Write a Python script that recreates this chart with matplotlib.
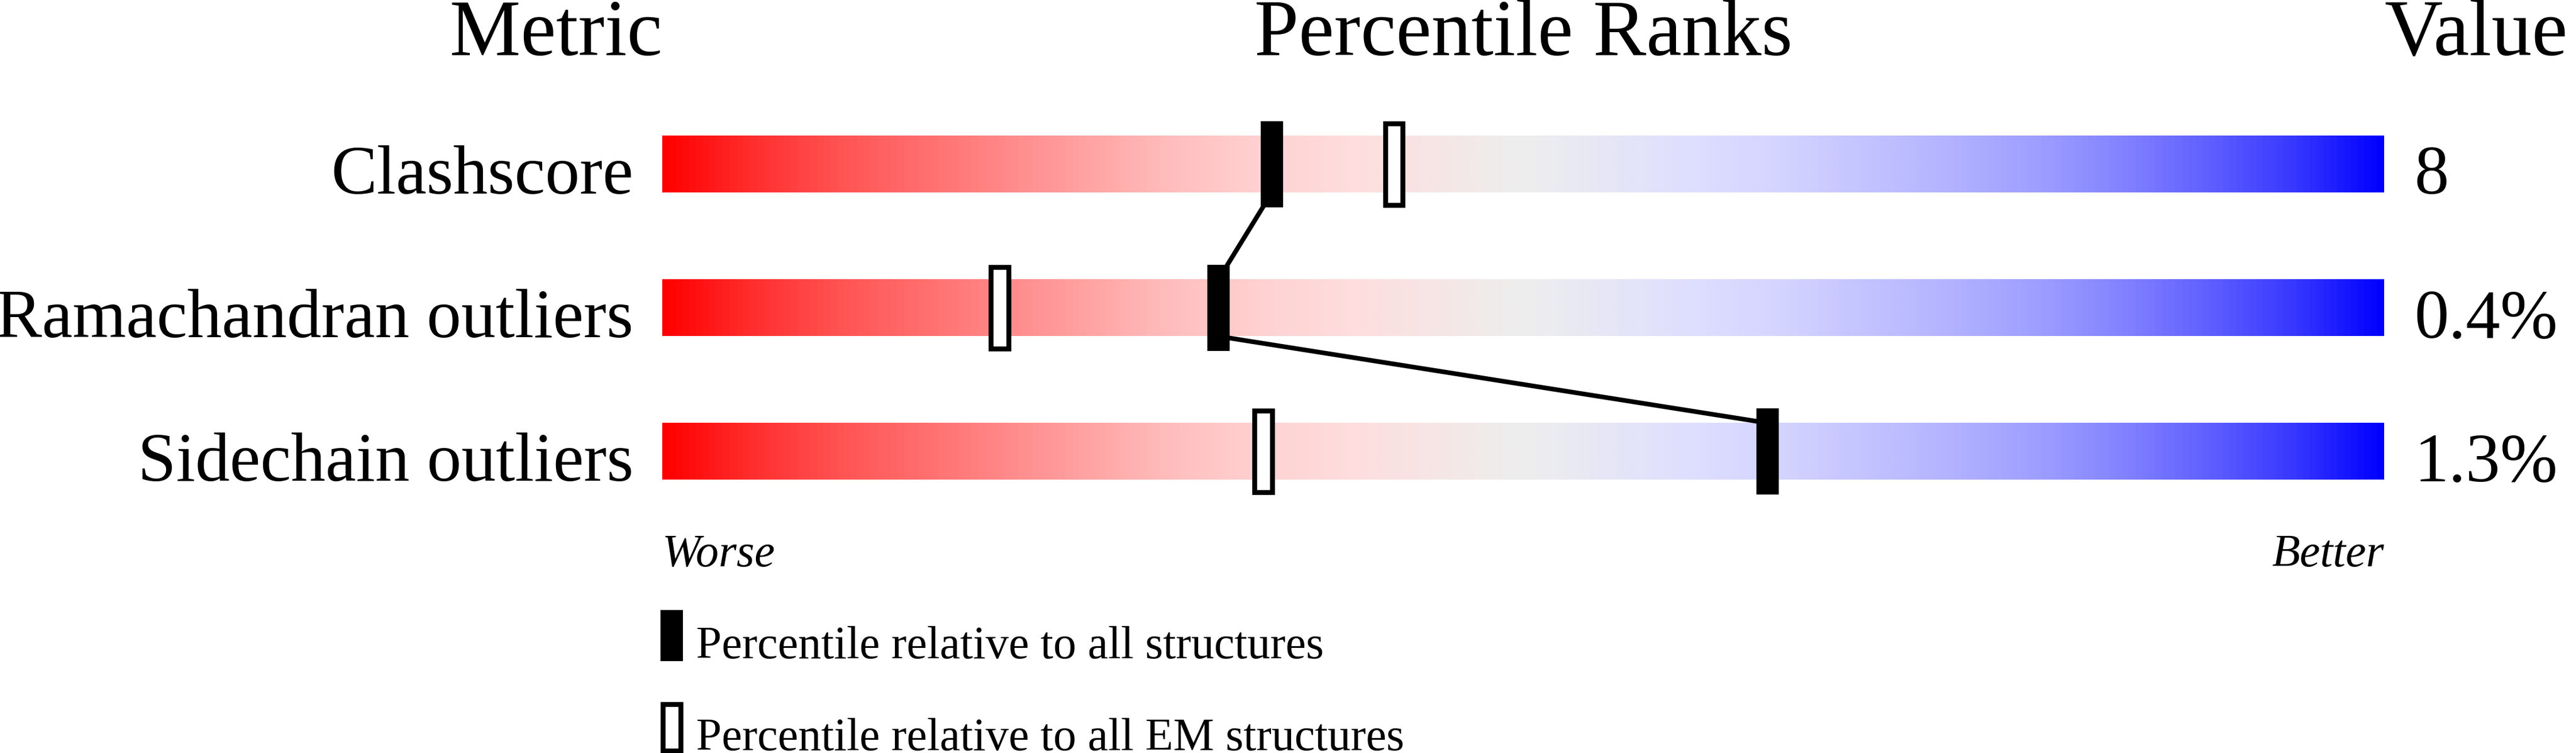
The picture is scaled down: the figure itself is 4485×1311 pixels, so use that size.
import numpy as np
import matplotlib
matplotlib.use("Agg")
import matplotlib.pyplot as plt
from matplotlib.colors import LinearSegmentedColormap
from matplotlib.patches import Rectangle

plt.rcParams['font.family'] = ['Liberation Serif', 'DejaVu Serif']

# data
metrics = ["Clashscore", "Ramachandran outliers", "Sidechain outliers"]
values = ["8", "0.4%", "1.3%"]
pct_all = [35.4, 32.3, 64.2]      # percentile relative to all structures
pct_em = [42.5, 19.6, 34.9]       # percentile relative to all EM structures
legend_labels = ["Percentile relative to all structures",
                 "Percentile relative to all EM structures"]

# slider colours, worse (red) -> better (blue)
stops = [
    (0.00, (255, 0, 0)),
    (0.05, (255, 45, 45)),
    (0.10, (255, 82, 82)),
    (0.15, (255, 110, 110)),
    (0.20, (255, 138, 138)),
    (0.25, (255, 165, 165)),
    (0.30, (255, 192, 192)),
    (0.35, (255, 210, 210)),
    (0.40, (254, 221, 221)),
    (0.50, (238, 238, 238)),
    (0.60, (222, 222, 255)),
    (0.65, (212, 212, 255)),
    (0.70, (195, 195, 255)),
    (0.75, (178, 178, 255)),
    (0.80, (158, 158, 255)),
    (0.85, (130, 130, 255)),
    (0.90, (95, 95, 255)),
    (0.95, (55, 55, 255)),
    (1.00, (0, 0, 255)),
]
slider = LinearSegmentedColormap.from_list(
    "slider", [(p, tuple(c / 255 for c in rgb)) for p, rgb in stops])

W, H, DPI = 4485, 1311, 100
fig = plt.figure(figsize=(W / DPI, H / DPI), dpi=DPI)
fig.patch.set_facecolor("white")

# axes spans the slider width, one row unit = 250 px
bar_left, bar_right = 1153, 4151
ax = fig.add_axes([bar_left / W, 0, (bar_right - bar_left) / W, 1])
ax.set_xlim(0, 100)
ax.set_ylim((H - 286) / 250, -286 / 250)
ax.axis("off")

bar_h = 0.396          # gradient bar height (rows)
mk_h = 0.6             # marker height (rows)
mk_w = 39 / (bar_right - bar_left) * 100   # marker width (percent units)
edge_px = 8.5
edge_pt = edge_px * 72 / DPI
px_x = 100 / (bar_right - bar_left)        # percent units per pixel
px_y = 1 / 250                             # rows per pixel

grad = np.linspace(0, 1, 1024).reshape(1, -1)
for i in range(len(metrics)):
    ax.imshow(grad, cmap=slider, aspect="auto", interpolation="bilinear",
              extent=(0, 100, i + bar_h / 2, i - bar_h / 2), zorder=1)

# line joining the "all structures" markers
rows = np.arange(len(metrics))
lx, ly = [], []
for i, p in enumerate(pct_all):
    if i > 0:
        lx.append(p)
        ly.append(rows[i] - bar_h / 2)
    if i < len(pct_all) - 1:
        lx.append(p)
        ly.append(rows[i] + bar_h / 2)
ax.plot(lx, ly, color="black", lw=5.8, solid_capstyle="butt", zorder=2)

for i, (pa, pe) in enumerate(zip(pct_all, pct_em)):
    ax.add_patch(Rectangle((pa - mk_w / 2, i - mk_h / 2), mk_w, mk_h,
                           facecolor="black", edgecolor="none", zorder=3))
    ax.add_patch(Rectangle((pe - mk_w / 2 + edge_px / 2 * px_x,
                            i - mk_h / 2 + edge_px / 2 * px_y),
                           mk_w - edge_px * px_x, mk_h - edge_px * px_y,
                           facecolor="white", edgecolor="black",
                           lw=edge_pt, zorder=3))
    ax.annotate(metrics[i], xy=(0, i + bar_h / 2), xytext=(-50, -2),
                textcoords="offset pixels", ha="right", va="baseline",
                fontsize=86.4)
    ax.annotate(values[i], xy=(100, i + bar_h / 2), xytext=(52, -2),
                textcoords="offset pixels", ha="left", va="baseline",
                fontsize=86.4)

# headers
head_y = (96 - 286) / 250
ax.text(0, head_y, "Metric", ha="right", va="baseline", fontsize=100)
ax.text(50, head_y, "Percentile Ranks", ha="center", va="baseline", fontsize=100)
ax.text(100, head_y, "Value", ha="left", va="baseline", fontsize=101)

# worse / better
wb_y = (986 - 286) / 250
ax.text(0, wb_y, "Worse", ha="left", va="baseline", fontsize=57.6, style="italic")
ax.text(100, wb_y, "Better", ha="right", va="baseline", fontsize=57.6, style="italic")

# legend
leg_h = 89 / 250
leg_top = [(1062 - 286) / 250, (1222 - 286) / 250]
leg_x = -3 * px_x
ax.add_patch(Rectangle((leg_x, leg_top[0]), mk_w, leg_h,
                       facecolor="black", edgecolor="none", clip_on=False))
ax.add_patch(Rectangle((leg_x + edge_px / 2 * px_x, leg_top[1] + edge_px / 2 * px_y),
                       mk_w - edge_px * px_x, leg_h - edge_px * px_y,
                       facecolor="white", edgecolor="black", lw=edge_pt,
                       clip_on=False))
for k, lab in enumerate(legend_labels):
    ax.text(leg_x + mk_w + 23 * px_x, leg_top[k] + 84 / 250, lab,
            ha="left", va="baseline", fontsize=57.6)

fig.savefig("out.png", dpi=DPI, facecolor="white")
